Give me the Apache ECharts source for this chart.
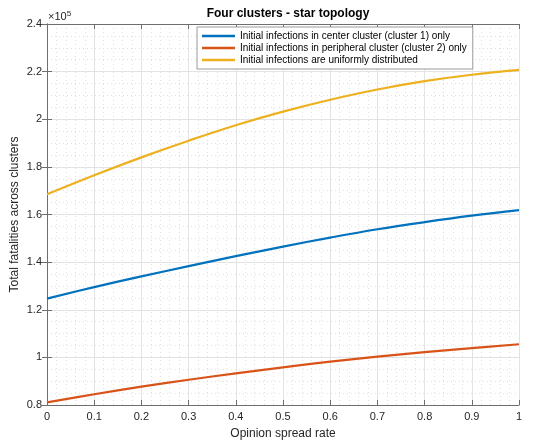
<!DOCTYPE html>
<html><head><meta charset="utf-8">
<script src="https://cdn.jsdelivr.net/npm/echarts@6/dist/echarts.min.js"></script>
<style>html,body{margin:0;padding:0;background:#fff}#c{width:534px;height:440px}</style>
</head><body><div id="c"></div>
<script>
// Opinion spread rate (x axis)
const spreadRate = [0, 0.1, 0.2, 0.3, 0.4, 0.5, 0.6, 0.7, 0.8, 0.9, 1.0];
// Total fatalities across clusters
const centerCluster = [124700, 129500, 134000, 138300, 142500, 146500, 150300, 153800, 156800, 159500, 161800];
const peripheralCluster = [81100, 84500, 87700, 90600, 93300, 95800, 98200, 100300, 102200, 103900, 105500];
const uniformInfections = [168500, 176500, 184000, 191000, 197500, 203200, 208200, 212500, 216000, 218700, 220700];
const seriesNames = [
  'Initial infections in center cluster (cluster 1) only',
  'Initial infections in peripheral cluster (cluster 2) only',
  'Initial infections are uniformly distributed'
];
const titleText = 'Four clusters - star topology';
const xAxisName = 'Opinion spread rate';
const yAxisName = 'Total fatalities across clusters';

const FONT = '"Liberation Sans", Arial, Helvetica, sans-serif';
const colors = ['#0072BD', '#D95319', '#EDB120'];
const toPairs = arr => spreadRate.map((x, i) => [x, arr[i]]);

const chart = echarts.init(document.getElementById('c'), null, {renderer: 'canvas'});
const axisLineColor = '#6e6e6e';
const labelColor = '#262626';

const baseX = {
  type: 'value', min: 0, max: 1, interval: 0.1,
  axisLine: {show: true, lineStyle: {color: axisLineColor, width: 1}},
  axisTick: {show: true, inside: true, length: 5, lineStyle: {color: axisLineColor}},
};
const baseY = {
  type: 'value', min: 80000, max: 240000, interval: 20000,
  axisLine: {show: true, lineStyle: {color: axisLineColor, width: 1}},
  axisTick: {show: true, inside: true, length: 5, lineStyle: {color: axisLineColor}},
};

chart.setOption({
  animation: false,
  backgroundColor: '#fff',
  title: {
    text: titleText, left: 283, top: 3, textAlign: 'center',
    textStyle: {fontFamily: FONT, fontSize: 12, fontWeight: 'bold', color: '#000'}
  },
  grid: {left: 47, right: 15, top: 24, bottom: 35, containLabel: false, outerBoundsMode: 'none'},
  legend: {
    orient: 'vertical', left: 197, top: 27,
    backgroundColor: '#fff', borderColor: '#9a9a9a', borderWidth: 1,
    padding: [3, 6, 3, 5], itemGap: 0,
    itemWidth: 33, itemHeight: 2.5, icon: 'rect',
    textStyle: {fontFamily: FONT, fontSize: 10, color: '#000', lineHeight: 12, padding: [0, 0, 0, 0]},
    data: seriesNames
  },
  graphic: [{
    type: 'text', left: 48, top: 10,
    style: {
      text: '×10{s|5}', fontFamily: FONT, fontSize: 11, fill: labelColor,
      rich: {s: {fontSize: 8, verticalAlign: 'top', padding: [0, 0, 6, 0], fontFamily: FONT, fill: labelColor}}
    }
  }],
  xAxis: [
    Object.assign({}, baseX, {
      position: 'bottom',
      name: xAxisName, nameLocation: 'middle', nameGap: 23, nameMoveOverlap: false,
      nameTextStyle: {fontFamily: FONT, fontSize: 12, color: labelColor},
      axisLabel: {fontFamily: FONT, fontSize: 11, color: labelColor, margin: 6,
        formatter: v => String(Number(v.toFixed(2)))},
      splitLine: {show: true, lineStyle: {color: '#e3e3e3', width: 1}},
      minorTick: {show: false, splitNumber: 5},
      minorSplitLine: {show: true, lineStyle: {color: '#e0e0e0', type: [1, 3], width: 1}}
    }),
    Object.assign({}, baseX, {
      position: 'top', axisLabel: {show: false}, splitLine: {show: false}
    })
  ],
  yAxis: [
    Object.assign({}, baseY, {
      position: 'left',
      name: yAxisName, nameLocation: 'middle', nameGap: 26, nameMoveOverlap: false,
      nameTextStyle: {fontFamily: FONT, fontSize: 12, color: labelColor},
      axisLabel: {fontFamily: FONT, fontSize: 11, color: labelColor, margin: 5,
        formatter: v => String(Number((v / 1e5).toFixed(2)))},
      splitLine: {show: true, lineStyle: {color: '#e3e3e3', width: 1}},
      minorTick: {show: false, splitNumber: 4},
      minorSplitLine: {show: true, lineStyle: {color: '#e0e0e0', type: [1, 3], width: 1}}
    }),
    Object.assign({}, baseY, {
      position: 'right', axisLabel: {show: false}, splitLine: {show: false}
    })
  ],
  series: [
    {name: seriesNames[0], type: 'line', data: toPairs(centerCluster), smooth: 0.4, symbol: 'none',
      lineStyle: {color: colors[0], width: 2.2}, itemStyle: {color: colors[0]}},
    {name: seriesNames[1], type: 'line', data: toPairs(peripheralCluster), smooth: 0.4, symbol: 'none',
      lineStyle: {color: colors[1], width: 2.2}, itemStyle: {color: colors[1]}},
    {name: seriesNames[2], type: 'line', data: toPairs(uniformInfections), smooth: 0.4, symbol: 'none',
      lineStyle: {color: colors[2], width: 2.2}, itemStyle: {color: colors[2]}}
  ]
});
</script></body></html>
